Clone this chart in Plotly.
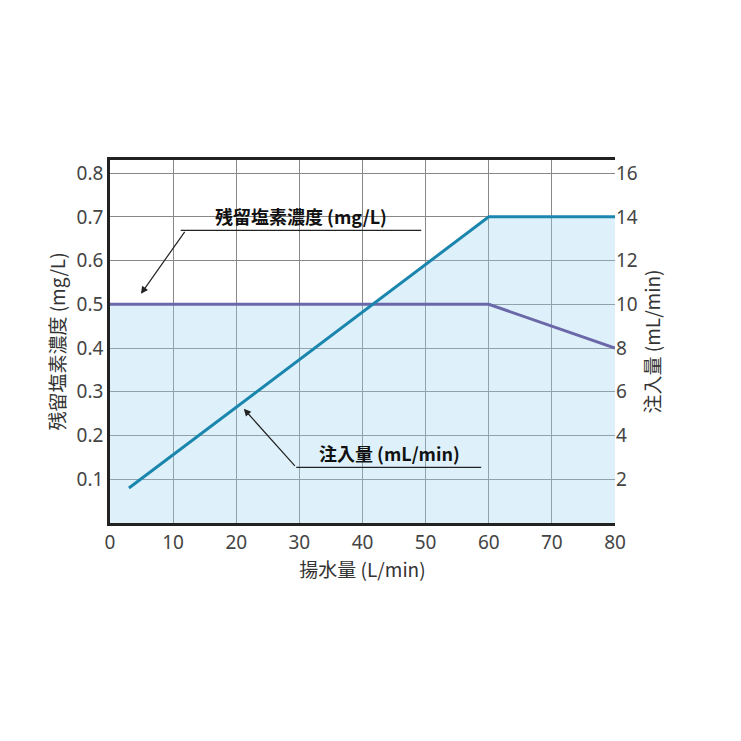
import plotly.graph_objects as go

## dados
vazao_inj = [3, 60, 80]          # L/min
injecao = [1.6, 14, 14]          # mL/min (eixo direito)
vazao_cl = [0, 60, 80]
cloro = [0.5, 0.5, 0.4]          # mg/L (eixo esquerdo)
area_x = [0, 41.6, 60, 80, 80, 0]
area_y = [0.5, 0.5, 0.7, 0.7, 0, 0]
fonte = "Noto Sans CJK JP"
fonte_num = "Noto Sans"

fig = go.Figure()
fig.add_trace(go.Scatter(x=area_x, y=area_y, fill="toself", fillcolor="rgba(160,215,240,0.35)",
                         line=dict(width=0), mode="lines", hoverinfo="skip"))
fig.add_trace(go.Scatter(x=vazao_cl, y=cloro, mode="lines", line=dict(color="#6a68a8", width=3)))
fig.add_trace(go.Scatter(x=vazao_inj, y=injecao, mode="lines", yaxis="y2",
                         line=dict(color="#1a86ae", width=3)))

eixo_titulo = dict(family=fonte, size=19, color="#333")
fig.update_layout(
    width=741, height=741, showlegend=False,
    paper_bgcolor="white", plot_bgcolor="rgba(0,0,0,0)",
    margin=dict(l=102, r=134, t=152, b=226),
    font=dict(family=fonte_num, size=19, color="#444"),
    xaxis=dict(range=[0, 80], dtick=10, showgrid=True, gridcolor="#888", gridwidth=1,
               showline=True, linecolor="#222", linewidth=2.5, mirror=True, ticks="",
               zeroline=False, title=dict(text="揚水量 (L/min)", standoff=4, font=eixo_titulo)),
    yaxis=dict(range=[0, 0.83], tickvals=[0.1, 0.2, 0.3, 0.4, 0.5, 0.6, 0.7, 0.8],
               showgrid=True, gridcolor="#888", showline=True, linecolor="#222", linewidth=2.5,
               zeroline=False, title=dict(text="残留塩素濃度 (mg/L)", standoff=6, font=eixo_titulo)),
    yaxis2=dict(range=[0, 16.6], tickvals=[2, 4, 6, 8, 10, 12, 14, 16], overlaying="y",
                side="right", showgrid=False, zeroline=False,
                title=dict(text="注入量 (mL/min)", standoff=6, font=eixo_titulo)),
)

fig.add_shape(type="line", x0=11.2, x1=49.3, y0=0.669, y1=0.669, line=dict(color="#222", width=1.2))
fig.add_shape(type="line", x0=29.5, x1=58.8, y0=0.127, y1=0.127, line=dict(color="#222", width=1.2))
fig.add_annotation(x=30.3, y=0.703, text="<b>残留塩素濃度 (mg/L)</b>", showarrow=False,
                   font=dict(family=fonte, size=18, color="#111"))
fig.add_annotation(x=44.2, y=0.161, text="<b>注入量 (mL/min)</b>", showarrow=False,
                   font=dict(family=fonte, size=18, color="#111"))
fig.add_annotation(x=4.9, y=0.524, ax=12, ay=0.669, axref="x", ayref="y", text="",
                   showarrow=True, arrowhead=2, arrowsize=1.2, arrowwidth=1.2, arrowcolor="#222")
fig.add_annotation(x=21.2, y=0.261, ax=29.5, ay=0.127, axref="x", ayref="y", text="",
                   showarrow=True, arrowhead=2, arrowsize=1.2, arrowwidth=1.2, arrowcolor="#222")

fig.write_html("out.html")
